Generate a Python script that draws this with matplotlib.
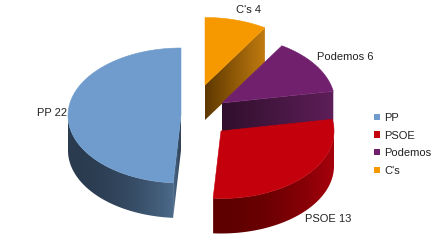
import numpy as np
import matplotlib.pyplot as plt
from matplotlib.patches import Polygon, Patch
from matplotlib.colors import to_rgb

plt.rcParams["font.family"] = ["Liberation Sans", "DejaVu Sans"]

parties = ["PP", "PSOE", "Podemos", "C's"]
seats = [22, 13, 6, 4]

top_colors = ["#6f9ccc", "#c4000c", "#71206d", "#f69900"]
side_dark = ["#2a3b4f", "#5e0000", "#300f2c", "#5e3800"]
side_light = ["#4d6b8c", "#a8000c", "#5e1f59", "#c27c10"]

# pie geometry, in pixels of the 448 x 247 figure
cx, cy = 200, 108
rx, ry = 113, 67.5
depth = 35
# exploded offset of each slice
shift_x = [-19, 21, 22, 5]
shift_y = [7.5, 23, -5, -23]
# label nudges from the rim point at the slice middle
label_dx = [-1, 0, 1, 12]
label_dy = [0, 43, -8, -10]
label_ha = ["right", "left", "left", "center"]


def mix(c1, c2, f):
    a, b = np.array(to_rgb(c1)), np.array(to_rgb(c2))
    return tuple(a + (b - a) * f)


def rim(vx, vy, t):
    return vx - rx * np.sin(t), vy - ry * np.cos(t)


fig = plt.figure(figsize=(4.48, 2.47), dpi=100)
ax = fig.add_axes([0, 0, 1, 1])
zorder = [1]


def grad_fill(pts, c_from, c_to, x_from, x_to, power=1.0):
    """Fill a polygon with a horizontal colour ramp (image clipped to the polygon)."""
    poly = Polygon(pts, closed=True, fc="none", ec="none", zorder=zorder[0])
    ax.add_patch(poly)
    xs = [p[0] for p in pts]
    ys = [p[1] for p in pts]
    x0, x1, y0, y1 = min(xs), max(xs), min(ys), max(ys)
    gx = np.linspace(x0, x1, 200)
    span = x_to - x_from if abs(x_to - x_from) > 1e-6 else 1.0
    f = np.clip((gx - x_from) / span, 0, 1) ** power
    img = np.array([mix(c_from, c_to, v) for v in f])[None, :, :]
    im = ax.imshow(img, extent=(x0 - 0.5, x1 + 0.5, y1 + 0.5, y0 - 0.5), aspect="auto",
                   interpolation="bilinear", zorder=zorder[0])
    im.set_clip_path(poly)
    zorder[0] += 1


bounds = np.concatenate([[0], np.cumsum(seats)]) / sum(seats) * 2 * np.pi
order = np.argsort([cy + s for s in shift_y])

for i in order:
    t1, t2 = bounds[i], bounds[i + 1]
    vx, vy = cx + shift_x[i], cy + shift_y[i]

    # radial faces
    for t, vis in ((t1, np.sin(t1) < -1e-6), (t2, np.sin(t2) > 1e-6)):
        if not vis:
            continue
        ex, ey = rim(vx, vy, t)
        grad_fill([(vx, vy), (ex, ey), (ex, ey + depth), (vx, vy + depth)],
                  side_dark[i], side_light[i], vx, ex)

    # outer wall, only the front half is seen
    a0, a1 = max(t1, np.pi / 2), min(t2, 3 * np.pi / 2)
    if a1 > a0:
        ts = np.linspace(a0, a1, 80)
        px, py = rim(vx, vy, ts)
        pts = list(zip(px, py)) + list(zip(px[::-1], py[::-1] + depth))
        grad_fill(pts, side_dark[i], side_light[i], px[0], px[-1], power=2.0)

    # top face
    ts = np.linspace(t1, t2, 120)
    px, py = rim(vx, vy, ts)
    pts = [(vx, vy)] + list(zip(px, py))
    ax.add_patch(Polygon(pts, closed=True, fc=top_colors[i], ec=top_colors[i], lw=0.4,
                         zorder=zorder[0]))
    zorder[0] += 1

    # label
    lx, ly = rim(vx, vy, (t1 + t2) / 2)
    ax.text(lx + label_dx[i], ly + label_dy[i], f"{parties[i]} {seats[i]}",
            ha=label_ha[i], va="center", fontsize=8, color="#222222", zorder=50)

ax.set_xlim(0, 448)
ax.set_ylim(247, 0)
ax.axis("off")

handles = [Patch(fc=c, ec="none") for c in top_colors]
fig.legend(handles, parties, loc="upper left", bbox_to_anchor=(374 / 448, 1 - 113 / 247),
           frameon=False, fontsize=8, handlelength=0.5, handleheight=0.5,
           handletextpad=0.4, labelspacing=0.68, borderpad=0, borderaxespad=0,
           labelcolor="#222222")

fig.savefig("out.png", dpi=100)
